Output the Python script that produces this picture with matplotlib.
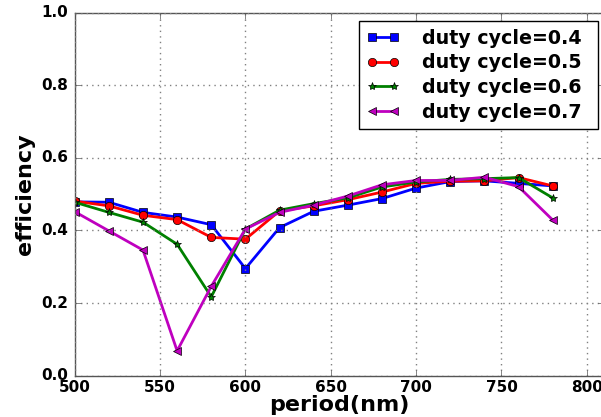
import matplotlib
matplotlib.use("Agg")
import matplotlib.pyplot as plt

period = [500, 520, 540, 560, 580, 600, 620, 640, 660, 680, 700, 720, 740, 760, 780]
dc04 = [0.479, 0.478, 0.450, 0.437, 0.416, 0.295, 0.408, 0.453, 0.470, 0.488, 0.517, 0.535, 0.537, 0.530, 0.523]
dc05 = [0.481, 0.468, 0.442, 0.430, 0.381, 0.376, 0.454, 0.468, 0.485, 0.506, 0.530, 0.536, 0.537, 0.546, 0.523]
dc06 = [0.478, 0.450, 0.423, 0.362, 0.217, 0.404, 0.456, 0.474, 0.490, 0.520, 0.534, 0.541, 0.543, 0.546, 0.490]
dc07 = [0.452, 0.399, 0.346, 0.068, 0.246, 0.404, 0.450, 0.470, 0.495, 0.526, 0.538, 0.538, 0.547, 0.521, 0.429]
labels = ["duty cycle=0.4", "duty cycle=0.5", "duty cycle=0.6", "duty cycle=0.7"]

plt.style.use("classic")
plt.rcParams["font.family"] = ["DejaVu Sans"]
plt.rcParams["font.weight"] = "bold"

fig = plt.figure(figsize=(6.01, 4.17), dpi=100)
fig.patch.set_facecolor("white")
ax = fig.add_axes([74.7 / 601, 1 - 375.5 / 417, 529.2 / 601, 362.5 / 417])

series = [dc04, dc05, dc06, dc07]
styles = [("b", "s"), ("r", "o"), ("g", "*"), ("m", "<")]
for ys, (c, m), lab in zip(series, styles, labels):
    ax.plot(period, ys, color=c, marker=m, linewidth=2, markersize=6, label=lab)

ax.set_xlim(500, 810)
ax.set_ylim(0, 1.0)
ax.set_xticks([500, 550, 600, 650, 700, 750, 800])
ax.set_yticks([0.0, 0.2, 0.4, 0.6, 0.8, 1.0])
ax.grid(True, linestyle=":", color="gray", linewidth=1)
for s in ax.spines.values():
    s.set_color("#555555")
ax.tick_params(labelsize=11, color="#555555")
ax.tick_params(axis="x", pad=3)
ax.tick_params(axis="y", pad=5)
for t in ax.get_xticklabels() + ax.get_yticklabels():
    t.set_fontweight("bold")
ax.set_xlabel("period(nm)", fontsize=16, fontweight="bold", labelpad=0)
ax.set_ylabel("efficiency", fontsize=16, fontweight="bold", labelpad=4)
leg = ax.legend(loc="upper right", mode="expand", bbox_to_anchor=(0.537, 0.0, 0.451, 0.978),
                prop={"size": 13.7, "weight": "bold"}, numpoints=2,
                fancybox=False, borderaxespad=0.0, handlelength=1.75, handletextpad=1.15,
                labelspacing=0.3)
leg.get_frame().set_edgecolor("black")

fig.savefig("out.png", dpi=100, facecolor="white")
